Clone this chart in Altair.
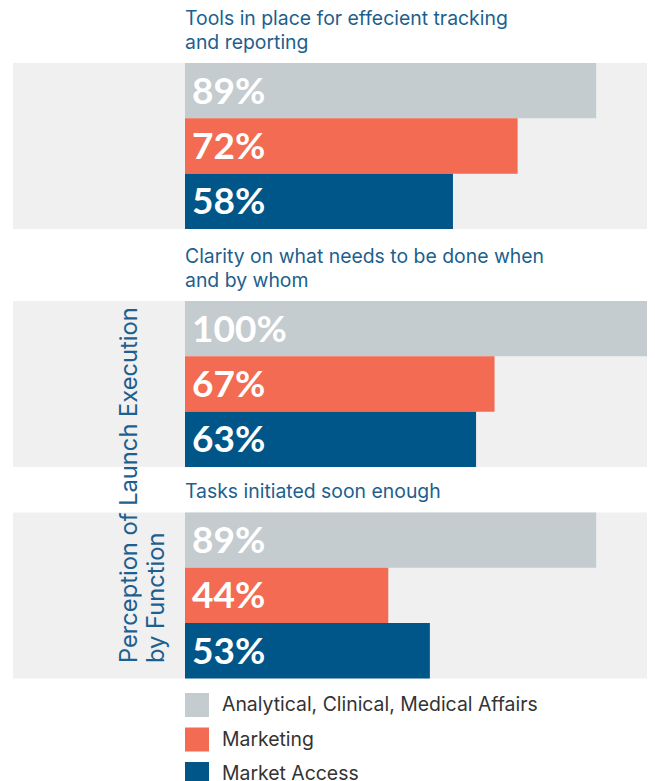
import altair as alt
import pandas as pd

# ---- data ----
group_titles = [
    ["Tools in place for effecient tracking", "and reporting"],
    ["Clarity on what needs to be done when", "and by whom"],
    ["Tasks initiated soon enough"],
]
functions = ["Analytical, Clinical, Medical Affairs", "Marketing", "Market Access"]
values_tools = [89, 72, 58]
values_clarity = [100, 67, 63]
values_tasks = [89, 44, 53]
colors = ["#c5cccf", "#f26b52", "#005689"]
axis_title = ["Perception of Launch Execution", "by Function"]

BLUE = "#1d5f8e"
FONT = "Inter"
W, H = 462, 166
LEFT = 172


def panel(vals, title):
    df = pd.DataFrame({
        "function": functions,
        "value": vals,
        "label": [f"{v}%" for v in vals],
    })
    band = alt.Chart(pd.DataFrame({"k": [0]})).mark_rect(color="#f0f0f0").encode(
        x=alt.value(-LEFT), x2=alt.value(W), y=alt.value(0), y2=alt.value(H)
    )
    yenc = alt.Y("function:N", sort=functions, axis=None,
                 scale=alt.Scale(paddingInner=0, paddingOuter=0))
    bars = alt.Chart(df).mark_bar().encode(
        x=alt.X("value:Q", scale=alt.Scale(domain=[0, 100]), axis=None),
        y=yenc,
        color=alt.Color(
            "function:N",
            scale=alt.Scale(domain=functions, range=colors),
            legend=alt.Legend(
                title=None, orient="none", legendX=0, legendY=630,
                symbolType="square", symbolSize=576, symbolStrokeWidth=0,
                symbolOpacity=1, labelFont=FONT, labelFontSize=19.4,
                labelColor="#333333", rowPadding=10.5, labelOffset=13,
                labelLimit=500,
            ),
        ),
    )
    labels = alt.Chart(df).mark_text(
        align="left", baseline="middle", font="Lato", fontWeight="bold",
        fontSize=37, color="white", dx=7, dy=2,
    ).encode(x=alt.value(0), y=yenc, text="label:N")
    return alt.layer(band, bars, labels).properties(
        width=W, height=H,
        title=alt.TitleParams(
            text=title, anchor="start", frame="group", font=FONT, fontSize=19.4,
            fontWeight="normal", color=BLUE, lineHeight=23.5, offset=10,
        ),
    )


top_two = alt.vconcat(
    panel(values_tools, group_titles[0]),
    panel(values_clarity, group_titles[1]),
    spacing=18,
)

chart = alt.vconcat(
    top_two,
    panel(values_tasks, group_titles[2]),
    spacing=14.4,
).properties(
    padding={"left": 5, "top": 1, "right": 0, "bottom": 0},
    title=alt.TitleParams(
        text=axis_title, orient="left", anchor="start", angle=270,
        align="left", baseline="middle", font=FONT, fontSize=23.7,
        fontWeight="normal", color=BLUE, lineHeight=27, offset=-168, dx=123,
    ),
).configure_view(stroke=None)

chart.save("out.html", embed_options={"renderer": "svg", "actions": False})
